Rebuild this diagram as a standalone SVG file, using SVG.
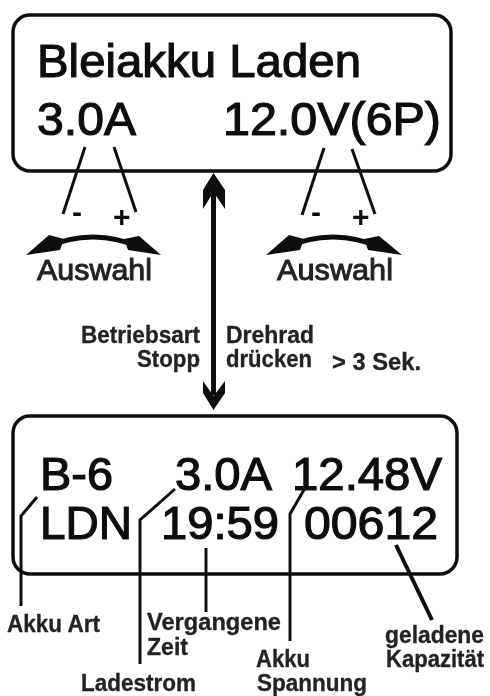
<svg xmlns="http://www.w3.org/2000/svg" width="490" height="696" viewBox="0 0 490 696">
<defs>
<filter id="soft" x="-5%" y="-5%" width="110%" height="110%"><feGaussianBlur stdDeviation="0.45"/></filter>
</defs>
<style>
text{font-family:"Liberation Sans",Arial,sans-serif;fill:#111}
.lcd{font-size:47px;stroke:#111;stroke-width:1.2}
.lcd2{font-size:46px;stroke:#111;stroke-width:1.2}
.lab{font-size:23px;font-weight:bold;fill:#222;stroke:#222;stroke-width:.3}
.aus{font-size:30px;fill:#222;stroke:#222;stroke-width:1}
.sym{font-weight:bold;font-size:30px}
.box{fill:none;stroke:#111;stroke-width:3.5}
.ln{fill:none;stroke:#111;stroke-width:3}
.th{fill:none;stroke:#111;stroke-width:4}
.arc{fill:none;stroke:#111;stroke-width:5}
.head{fill:#111}
</style>
<rect width="490" height="696" fill="#fff"/>
<g id="display-top" filter="url(#soft)">
<rect class="box" x="13" y="15" width="438" height="156" rx="17"/>
<text class="lcd" x="37" y="77" textLength="324" lengthAdjust="spacingAndGlyphs">Bleiakku Laden</text>
<text class="lcd" x="37" y="135" textLength="99" lengthAdjust="spacingAndGlyphs">3.0A</text>
<text class="lcd" x="223" y="135" textLength="218" lengthAdjust="spacingAndGlyphs">12.0V(6P)</text>
</g>
<g id="display-bottom" filter="url(#soft)">
<rect class="box" x="13" y="416" width="444" height="158" rx="17"/>
<text class="lcd2" x="40" y="490" textLength="73" lengthAdjust="spacingAndGlyphs">B-6</text>
<text class="lcd2" x="175" y="490" textLength="97" lengthAdjust="spacingAndGlyphs">3.0A</text>
<text class="lcd2" x="292" y="490" textLength="150" lengthAdjust="spacingAndGlyphs">12.48V</text>
<text class="lcd2" x="40" y="539" textLength="92" lengthAdjust="spacingAndGlyphs">LDN</text>
<text class="lcd2" x="161" y="539" textLength="118" lengthAdjust="spacingAndGlyphs">19:59</text>
<text class="lcd2" x="304" y="539" textLength="134" lengthAdjust="spacingAndGlyphs">00612</text>
</g>
<g id="connectors" filter="url(#soft)">
<path class="ln" d="M85 147L63 214"/>
<path class="ln" d="M114 147L136 212"/>
<path class="ln" d="M324 148L302 215"/>
<path class="ln" d="M352 149L375 214"/>
<path class="arc" d="M44 248Q93 226 142 248"/>
<path class="head" d="M26 255L49 235L64 239L60 250Z"/>
<path class="head" d="M161 255L139 236L124 239L128 250Z"/>
<path class="arc" d="M284 248Q333 226 382 248"/>
<path class="head" d="M266 255L289 235L304 239L300 250Z"/>
<path class="head" d="M402 255L379 236L364 239L368 250Z"/>
<path d="M213.500 185V395" fill="none" stroke="#111" stroke-width="5"/>
<path class="head" d="M213.500 173L225 190V209L213.500 192L203 209V190Z"/>
<path class="head" d="M213.500 410L225 393V381L213.500 396L203 381V393Z"/>
<path class="ln" d="M37 497L21 516V606"/>
<path class="ln" d="M175 489L140 520V664"/>
<path class="ln" d="M206 548V612"/>
<path class="ln" d="M305 488L290 514V641"/>
<path class="th" d="M396 545L432 620"/>
</g>
<g id="labels" filter="url(#soft)">
<text class="sym" x="72" y="222">-</text>
<text class="sym" x="113" y="227">+</text>
<text class="sym" x="311" y="222">-</text>
<text class="sym" x="352" y="227">+</text>
<text class="aus" x="37" y="280" textLength="115" lengthAdjust="spacingAndGlyphs">Auswahl</text>
<text class="aus" x="277" y="280" textLength="116" lengthAdjust="spacingAndGlyphs">Auswahl</text>
<text class="lab" x="81" y="343" textLength="119" lengthAdjust="spacingAndGlyphs">Betriebsart</text>
<text class="lab" x="137" y="367" textLength="63" lengthAdjust="spacingAndGlyphs">Stopp</text>
<text class="lab" x="226" y="343" textLength="88" lengthAdjust="spacingAndGlyphs">Drehrad</text>
<text class="lab" x="226" y="367" textLength="86" lengthAdjust="spacingAndGlyphs">drücken</text>
<text class="lab" x="332" y="370" textLength="89" lengthAdjust="spacingAndGlyphs">&gt; 3 Sek.</text>
<text class="lab" x="7" y="632" textLength="93" lengthAdjust="spacingAndGlyphs">Akku Art</text>
<text class="lab" x="147" y="630" textLength="134" lengthAdjust="spacingAndGlyphs">Vergangene</text>
<text class="lab" x="147" y="655" textLength="41" lengthAdjust="spacingAndGlyphs">Zeit</text>
<text class="lab" x="81" y="691" textLength="115" lengthAdjust="spacingAndGlyphs">Ladestrom</text>
<text class="lab" x="256" y="667" textLength="54" lengthAdjust="spacingAndGlyphs">Akku</text>
<text class="lab" x="257" y="691" textLength="110" lengthAdjust="spacingAndGlyphs">Spannung</text>
<text class="lab" x="385" y="643" textLength="99" lengthAdjust="spacingAndGlyphs">geladene</text>
<text class="lab" x="386" y="667" textLength="98" lengthAdjust="spacingAndGlyphs">Kapazität</text>
</g>
</svg>
